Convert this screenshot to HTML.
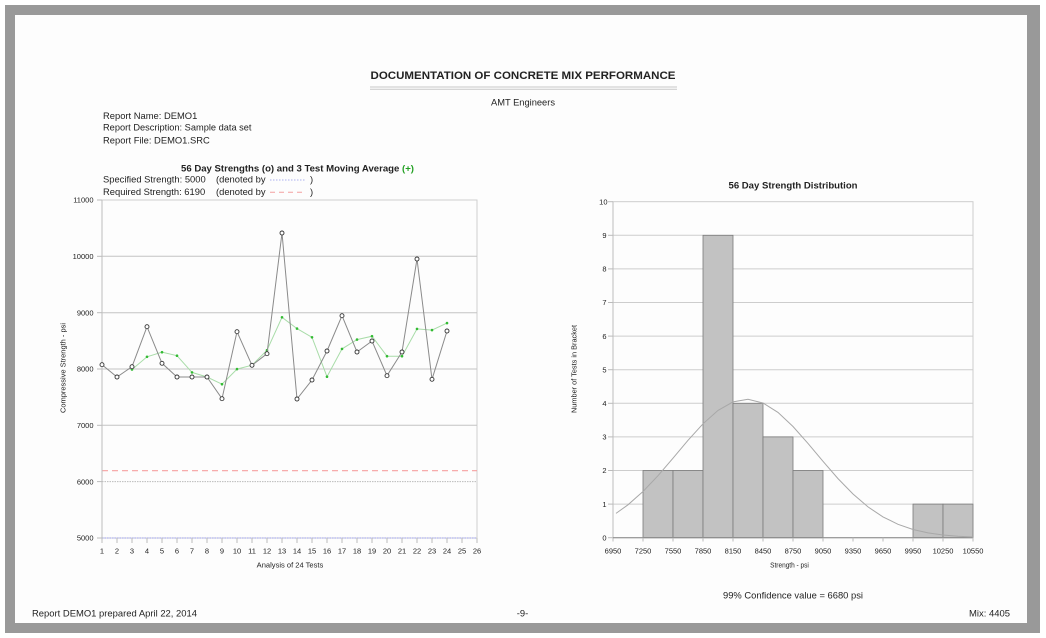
<!DOCTYPE html>
<html>
<head>
<meta charset="utf-8">
<style>
html,body{margin:0;padding:0;background:#fff;}
svg{display:block;}
text{font-family:"Liberation Sans",Arial,sans-serif;fill:#222;}
</style>
</head>
<body>
<svg width="1046" height="638" viewBox="0 0 1046 638" xmlns="http://www.w3.org/2000/svg">
<!-- frame -->
<rect x="0" y="0" width="1046" height="638" fill="#fff"/>
<rect x="5" y="5" width="1035" height="628" fill="#999"/>
<rect x="15" y="15" width="1012" height="608" fill="#fdfdfd"/>

<!-- header -->
<text x="370.5" y="79" font-size="11" font-weight="bold" textLength="305" lengthAdjust="spacingAndGlyphs">DOCUMENTATION OF CONCRETE MIX PERFORMANCE</text>
<line x1="370" y1="87" x2="677" y2="87" stroke="#c8c8c8" stroke-width="1"/>
<line x1="370" y1="89.3" x2="677" y2="89.3" stroke="#c8c8c8" stroke-width="1"/>
<text x="491" y="105.7" font-size="9.4" textLength="64" lengthAdjust="spacingAndGlyphs">AMT Engineers</text>

<text x="103" y="119" font-size="9.4">Report Name: DEMO1</text>
<text x="103" y="130.7" font-size="9.4" textLength="148.5" lengthAdjust="spacingAndGlyphs">Report Description: Sample data set</text>
<text x="103" y="143.3" font-size="9.4">Report File: DEMO1.SRC</text>

<!-- left chart title and legend -->
<text x="181" y="171.7" font-size="9.4" font-weight="bold" textLength="233" lengthAdjust="spacingAndGlyphs">56 Day Strengths (o) and 3 Test Moving Average <tspan fill="#22a022">(+)</tspan></text>
<text x="103" y="182.7" font-size="9.4">Specified Strength: 5000</text>
<text x="216" y="182.7" font-size="9.4">(denoted by</text>
<line x1="270" y1="180" x2="306" y2="180" stroke="#aab0ee" stroke-width="1" stroke-dasharray="1.5,1.5"/>
<text x="310" y="182.7" font-size="9.4">)</text>
<text x="103" y="195" font-size="9.4">Required Strength: 6190</text>
<text x="216" y="195" font-size="9.4">(denoted by</text>
<line x1="270" y1="192.3" x2="306" y2="192.3" stroke="#f4a0a0" stroke-width="1" stroke-dasharray="5,4"/>
<text x="310" y="195" font-size="9.4">)</text>

<!-- LEFT CHART -->
<g>
<rect x="102" y="200" width="375" height="338" fill="none" stroke="#cfcfcf" stroke-width="1"/>
<g stroke="#c4c4c4" stroke-width="1">
<line x1="102" y1="256.3" x2="477" y2="256.3"/>
<line x1="102" y1="312.7" x2="477" y2="312.7"/>
<line x1="102" y1="369" x2="477" y2="369"/>
<line x1="102" y1="425.3" x2="477" y2="425.3"/>
</g>
<line x1="102" y1="481.6" x2="477" y2="481.6" stroke="#bbb" stroke-width="1" stroke-dasharray="1.5,1"/>
<line x1="102" y1="470.7" x2="477" y2="470.7" stroke="#f6a0a0" stroke-width="1.2" stroke-dasharray="6,4"/>
<line x1="102" y1="538" x2="477" y2="538" stroke="#9aa0ee" stroke-width="1" stroke-dasharray="1.5,1"/>
<line x1="102" y1="200" x2="102" y2="543" stroke="#bdbdbd" stroke-width="1"/>
<!-- y ticks -->
<g stroke="#bbb" stroke-width="1">
<line x1="97" y1="200" x2="102" y2="200"/>
<line x1="97" y1="256.3" x2="102" y2="256.3"/>
<line x1="97" y1="312.7" x2="102" y2="312.7"/>
<line x1="97" y1="369" x2="102" y2="369"/>
<line x1="97" y1="425.3" x2="102" y2="425.3"/>
<line x1="97" y1="481.6" x2="102" y2="481.6"/>
<line x1="97" y1="538" x2="102" y2="538"/>
</g>
<g font-size="7.5" text-anchor="end">
<text x="93.5" y="202.7">11000</text>
<text x="93.5" y="259">10000</text>
<text x="93.5" y="315.4">9000</text>
<text x="93.5" y="371.7">8000</text>
<text x="93.5" y="428">7000</text>
<text x="93.5" y="484.3">6000</text>
<text x="93.5" y="540.7">5000</text>
</g>
<!-- x ticks -->
<g stroke="#bbb" stroke-width="1">
<line x1="117" y1="538" x2="117" y2="543"/><line x1="132" y1="538" x2="132" y2="543"/>
<line x1="147" y1="538" x2="147" y2="543"/><line x1="162" y1="538" x2="162" y2="543"/>
<line x1="177" y1="538" x2="177" y2="543"/><line x1="192" y1="538" x2="192" y2="543"/>
<line x1="207" y1="538" x2="207" y2="543"/><line x1="222" y1="538" x2="222" y2="543"/>
<line x1="237" y1="538" x2="237" y2="543"/><line x1="252" y1="538" x2="252" y2="543"/>
<line x1="267" y1="538" x2="267" y2="543"/><line x1="282" y1="538" x2="282" y2="543"/>
<line x1="297" y1="538" x2="297" y2="543"/><line x1="312" y1="538" x2="312" y2="543"/>
<line x1="327" y1="538" x2="327" y2="543"/><line x1="342" y1="538" x2="342" y2="543"/>
<line x1="357" y1="538" x2="357" y2="543"/><line x1="372" y1="538" x2="372" y2="543"/>
<line x1="387" y1="538" x2="387" y2="543"/><line x1="402" y1="538" x2="402" y2="543"/>
<line x1="417" y1="538" x2="417" y2="543"/><line x1="432" y1="538" x2="432" y2="543"/>
<line x1="447" y1="538" x2="447" y2="543"/><line x1="462" y1="538" x2="462" y2="543"/>
<line x1="477" y1="538" x2="477" y2="543"/>
</g>
<g font-size="7.5" text-anchor="middle">
<text x="102" y="553.4">1</text><text x="117" y="553.4">2</text><text x="132" y="553.4">3</text>
<text x="147" y="553.4">4</text><text x="162" y="553.4">5</text><text x="177" y="553.4">6</text>
<text x="192" y="553.4">7</text><text x="207" y="553.4">8</text><text x="222" y="553.4">9</text>
<text x="237" y="553.4">10</text><text x="252" y="553.4">11</text><text x="267" y="553.4">12</text>
<text x="282" y="553.4">13</text><text x="297" y="553.4">14</text><text x="312" y="553.4">15</text>
<text x="327" y="553.4">16</text><text x="342" y="553.4">17</text><text x="357" y="553.4">18</text>
<text x="372" y="553.4">19</text><text x="387" y="553.4">20</text><text x="402" y="553.4">21</text>
<text x="417" y="553.4">22</text><text x="432" y="553.4">23</text><text x="447" y="553.4">24</text>
<text x="462" y="553.4">25</text><text x="477" y="553.4">26</text>
</g>
<text x="290" y="567.6" font-size="7.3" text-anchor="middle" textLength="66.6" lengthAdjust="spacingAndGlyphs">Analysis of 24 Tests</text>
<text transform="translate(65.3,368) rotate(-90)" font-size="7.3" text-anchor="middle" textLength="90" lengthAdjust="spacingAndGlyphs">Compressive Strength - psi</text>

<!-- moving average -->
<polyline fill="none" stroke="#a8dca8" stroke-width="1" points="132,369.5 147,356.8 162,352.2 177,355.7 192,372.4 207,377 222,384.2 237,369.1 252,365.2 267,350.2 282,317.3 297,328.6 312,337.3 327,376.7 342,348.9 357,339.6 372,336.2 387,356.2 402,356.2 417,328.9 432,330.1 447,323.1"/>
<g fill="#33bb33">
<circle cx="132" cy="369.5" r="1.3"/><circle cx="147" cy="356.8" r="1.3"/><circle cx="162" cy="352.2" r="1.3"/>
<circle cx="177" cy="355.7" r="1.3"/><circle cx="192" cy="372.4" r="1.3"/><circle cx="207" cy="377" r="1.3"/>
<circle cx="222" cy="384.2" r="1.3"/><circle cx="237" cy="369.1" r="1.3"/><circle cx="252" cy="365.2" r="1.3"/>
<circle cx="267" cy="350.2" r="1.3"/><circle cx="282" cy="317.3" r="1.3"/><circle cx="297" cy="328.6" r="1.3"/>
<circle cx="312" cy="337.3" r="1.3"/><circle cx="327" cy="376.7" r="1.3"/><circle cx="342" cy="348.9" r="1.3"/>
<circle cx="357" cy="339.6" r="1.3"/><circle cx="372" cy="336.2" r="1.3"/><circle cx="387" cy="356.2" r="1.3"/>
<circle cx="402" cy="356.2" r="1.3"/><circle cx="417" cy="328.9" r="1.3"/><circle cx="432" cy="330.1" r="1.3"/>
<circle cx="447" cy="323.1" r="1.3"/>
</g>
<!-- strengths -->
<polyline fill="none" stroke="#8a8a8a" stroke-width="1" points="102,364.7 117,377 132,366.7 147,326.7 162,363.3 177,377 192,377 207,377 222,398.7 237,331.7 252,365.3 267,353.7 282,233 297,399 312,380 327,351 342,315.7 357,352 372,341 387,375.7 402,352 417,259 432,379.3 447,331"/>
<g fill="#fff" stroke="#333" stroke-width="0.9">
<circle cx="102" cy="364.7" r="2"/><circle cx="117" cy="377" r="2"/><circle cx="132" cy="366.7" r="2"/>
<circle cx="147" cy="326.7" r="2"/><circle cx="162" cy="363.3" r="2"/><circle cx="177" cy="377" r="2"/>
<circle cx="192" cy="377" r="2"/><circle cx="207" cy="377" r="2"/><circle cx="222" cy="398.7" r="2"/>
<circle cx="237" cy="331.7" r="2"/><circle cx="252" cy="365.3" r="2"/><circle cx="267" cy="353.7" r="2"/>
<circle cx="282" cy="233" r="2"/><circle cx="297" cy="399" r="2"/><circle cx="312" cy="380" r="2"/>
<circle cx="327" cy="351" r="2"/><circle cx="342" cy="315.7" r="2"/><circle cx="357" cy="352" r="2"/>
<circle cx="372" cy="341" r="2"/><circle cx="387" cy="375.7" r="2"/><circle cx="402" cy="352" r="2"/>
<circle cx="417" cy="259" r="2"/><circle cx="432" cy="379.3" r="2"/><circle cx="447" cy="331" r="2"/>
</g>
</g>

<!-- RIGHT CHART -->
<g>
<text x="793" y="188.4" font-size="9.4" font-weight="bold" text-anchor="middle" textLength="129" lengthAdjust="spacingAndGlyphs">56 Day Strength Distribution</text>
<g stroke="#cdcdcd" stroke-width="1">
<line x1="613" y1="504.1" x2="973" y2="504.1"/>
<line x1="613" y1="470.5" x2="973" y2="470.5"/>
<line x1="613" y1="436.9" x2="973" y2="436.9"/>
<line x1="613" y1="403.3" x2="973" y2="403.3"/>
<line x1="613" y1="369.7" x2="973" y2="369.7"/>
<line x1="613" y1="336.1" x2="973" y2="336.1"/>
<line x1="613" y1="302.5" x2="973" y2="302.5"/>
<line x1="613" y1="268.9" x2="973" y2="268.9"/>
<line x1="613" y1="235.3" x2="973" y2="235.3"/>
</g>
<rect x="613" y="201.7" width="360" height="336" fill="none" stroke="#cdcdcd" stroke-width="1"/>
<line x1="613" y1="201.7" x2="613" y2="541.5" stroke="#bdbdbd" stroke-width="1"/>
<!-- bars -->
<g fill="#c2c2c2" stroke="#7a7a7a" stroke-width="0.8">
<rect x="643" y="470.5" width="30" height="67.2"/>
<rect x="673" y="470.5" width="30" height="67.2"/>
<rect x="703" y="235.3" width="30" height="302.4"/>
<rect x="733" y="403.3" width="30" height="134.4"/>
<rect x="763" y="436.9" width="30" height="100.8"/>
<rect x="793" y="470.5" width="30" height="67.2"/>
<rect x="913" y="504.1" width="30" height="33.6"/>
<rect x="943" y="504.1" width="30" height="33.6"/>
</g>
<line x1="613" y1="537.7" x2="973" y2="537.7" stroke="#888" stroke-width="1"/>
<!-- normal curve -->
<polyline fill="none" stroke="#a8a8a8" stroke-width="1" points="616,513.4 628,504.8 643,491.5 658,475.7 673,458.2 688,440.3 703,423.8 718,410.4 733,401.9 748,399.3 763,403 778,412.4 793,426.5 808,443.4 823,461.3 838,478.6 853,494 868,506.9 883,516.9 898,524.3 913,529.5 928,532.9 943,535 958,536.3 973,537"/>
<!-- y ticks -->
<g stroke="#bbb" stroke-width="1">
<line x1="608" y1="537.7" x2="613" y2="537.7"/><line x1="608" y1="504.1" x2="613" y2="504.1"/>
<line x1="608" y1="470.5" x2="613" y2="470.5"/><line x1="608" y1="436.9" x2="613" y2="436.9"/>
<line x1="608" y1="403.3" x2="613" y2="403.3"/><line x1="608" y1="369.7" x2="613" y2="369.7"/>
<line x1="608" y1="336.1" x2="613" y2="336.1"/><line x1="608" y1="302.5" x2="613" y2="302.5"/>
<line x1="608" y1="268.9" x2="613" y2="268.9"/><line x1="608" y1="235.3" x2="613" y2="235.3"/>
<line x1="608" y1="201.7" x2="613" y2="201.7"/>
</g>
<g font-size="7.5" text-anchor="end">
<text x="606.5" y="540.4">0</text><text x="606.5" y="506.8">1</text><text x="606.5" y="473.2">2</text>
<text x="606.5" y="439.6">3</text><text x="606.5" y="406">4</text><text x="606.5" y="372.4">5</text>
<text x="606.5" y="338.8">6</text><text x="606.5" y="305.2">7</text><text x="606.5" y="271.6">8</text>
<text x="606.5" y="238">9</text><text x="607.5" y="204.4">10</text>
</g>
<!-- x ticks -->
<g stroke="#bbb" stroke-width="1">
<line x1="643" y1="537.7" x2="643" y2="541.5"/><line x1="673" y1="537.7" x2="673" y2="541.5"/>
<line x1="703" y1="537.7" x2="703" y2="541.5"/><line x1="733" y1="537.7" x2="733" y2="541.5"/>
<line x1="763" y1="537.7" x2="763" y2="541.5"/><line x1="793" y1="537.7" x2="793" y2="541.5"/>
<line x1="823" y1="537.7" x2="823" y2="541.5"/><line x1="853" y1="537.7" x2="853" y2="541.5"/>
<line x1="883" y1="537.7" x2="883" y2="541.5"/><line x1="913" y1="537.7" x2="913" y2="541.5"/>
<line x1="943" y1="537.7" x2="943" y2="541.5"/><line x1="973" y1="537.7" x2="973" y2="541.5"/>
</g>
<g font-size="7.5" text-anchor="middle">
<text x="613" y="553.6">6950</text><text x="643" y="553.6">7250</text><text x="673" y="553.6">7550</text>
<text x="703" y="553.6">7850</text><text x="733" y="553.6">8150</text><text x="763" y="553.6">8450</text>
<text x="793" y="553.6">8750</text><text x="823" y="553.6">9050</text><text x="853" y="553.6">9350</text>
<text x="883" y="553.6">9650</text><text x="913" y="553.6">9950</text><text x="943" y="553.6">10250</text>
<text x="973" y="553.6">10550</text>
</g>
<text x="789.5" y="567.6" font-size="7.3" text-anchor="middle" textLength="38.7" lengthAdjust="spacingAndGlyphs">Strength - psi</text>
<text transform="translate(576.6,369) rotate(-90)" font-size="7.3" text-anchor="middle" textLength="88" lengthAdjust="spacingAndGlyphs">Number of Tests in Bracket</text>
</g>

<text x="723" y="598.4" font-size="9.4" textLength="140" lengthAdjust="spacingAndGlyphs">99% Confidence value = 6680 psi</text>

<!-- footer -->
<text x="32" y="616.7" font-size="9.4" textLength="165" lengthAdjust="spacingAndGlyphs">Report DEMO1 prepared April 22, 2014</text>
<text x="522.5" y="616.7" font-size="9.4" text-anchor="middle">-9-</text>
<text x="969" y="616.7" font-size="9.4" textLength="41" lengthAdjust="spacingAndGlyphs">Mix: 4405</text>
</svg>
</body>
</html>
